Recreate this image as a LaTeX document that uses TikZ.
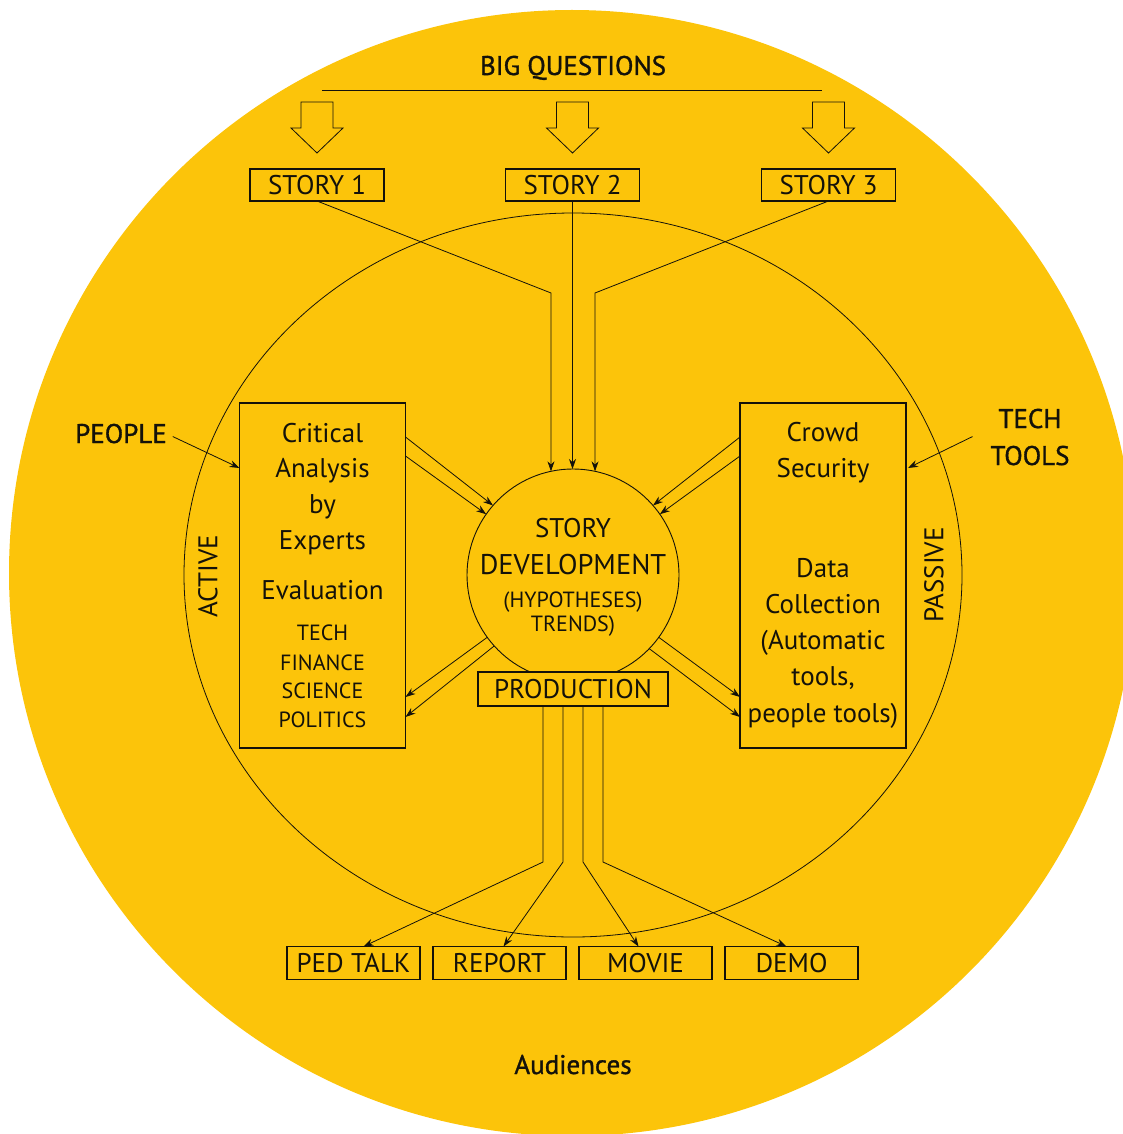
\documentclass[tikz,border=0pt]{standalone}
\usepackage{fontspec}
\setmainfont{PT Sans}
\newfontfamily\heavyfont[FakeBold=1.2]{PT Sans}
\usetikzlibrary{calc,arrows.meta}
\definecolor{gold}{RGB}{252,196,10}
\definecolor{ink}{RGB}{20,18,10}
\begin{document}
\begin{tikzpicture}[x=1pt,y=-1pt,
  every node/.style={inner sep=0pt, outer sep=0pt, text=ink},
  bx/.style={draw=ink, line width=1.2pt, fill=gold},
  ln/.style={draw=ink, line width=0.8pt},
  arr/.style={ln, -{Stealth[length=10pt,width=7pt]}},
  big/.style={font=\fontsize{27}{32}\selectfont},
  heavy/.style={font=\fontsize{27}{32}\heavyfont},
  mid/.style={font=\fontsize{22}{26}\selectfont},
  smallbox/.style={bx, big, minimum width=133, minimum height=33},
  storybox/.style={bx, big, minimum width=134, minimum height=32},
  rl/.style={big, anchor=base},
]
\useasboundingbox (0,0) rectangle (1123,1134);
\fill[gold] (572,573) circle[radius=563];
\draw[ln] (573,575) ellipse[x radius=389, y radius=362];

% top
\node[heavy, anchor=base] (bq) at (573,75) {BIG QUESTIONS};
\draw[ln] (322,90) -- (822,90);

\node[storybox] (s1) at (317,185) {STORY 1};
\node[storybox] (s2) at (572.5,185) {STORY 2};
\node[storybox] (s3) at (828.5,185) {STORY 3};

\foreach \sn in {s1,s2,s3}
  \draw[ln, fill=gold] ($(\sn.north)+(-16,-67)$) -- ++(32,0) -- ++(0,26) -- ++(10,0)
     -- ($(\sn.north)+(0,-16)$) -- ($(\sn.north)+(-26,-41)$) -- ++(10,0) -- cycle;

% central circle
\node[draw=ink, line width=0.9pt, circle, minimum size=212, fill=gold] (dev) at (573,575) {};
\node[big, anchor=base] (d1) at (573,537) {STORY};
\node[font=\fontsize{28.5}{32}\selectfont, anchor=base] (d2) at (573,574) {DEVELOPMENT};
\node[mid, anchor=base] (d3) at (573,607) {(HYPOTHESES)};
\node[mid, anchor=base] (d4) at (573,631) {TRENDS)};

\node[bx, big, minimum width=190, minimum height=34] (prod) at (573,689) {PRODUCTION};

% left box
\node[bx, minimum width=166, minimum height=345] (lbox) at (322.5,575.5) {};
\node[rl] (l1) at (322.5,442) {Critical};
\node[rl] (l2) at (322.5,477) {Analysis};
\node[rl] (l3) at (322.5,513) {by};
\node[rl] (l4) at (322.5,549) {Experts};
\node[rl] (l5) at (322.5,599) {Evaluation};
\node[mid, anchor=base] (ls1) at (322.5,640) {TECH};
\node[mid, anchor=base] (ls2) at (322.5,670) {FINANCE};
\node[mid, anchor=base] (ls3) at (322.5,698) {SCIENCE};
\node[mid, anchor=base] (ls4) at (322.5,727) {POLITICS};

% right box
\node[bx, minimum width=166, minimum height=345] (rbox) at (823,575.5) {};
\node[rl] (r1) at (823,441) {Crowd};
\node[rl] (r2) at (823,477) {Security};
\node[rl] (r3) at (823,577) {Data};
\node[rl] (r4) at (823,613) {Collection};
\node[rl] (r5) at (823,649) {(Automatic};
\node[rl] (r6) at (823,685) {tools,};
\node[rl] (r7) at (823,722) {people tools)};

% side labels
\node[big, rotate=90] (act) at (208,576) {ACTIVE};
\node[big, rotate=90] (pas) at (934,575) {PASSIVE};
\node[heavy, anchor=base] (people) at (121,443) {PEOPLE};
\node[heavy, anchor=base] (tech) at (1030,428) {TECH};
\node[heavy, anchor=base] (tools) at (1030,465) {TOOLS};

\draw[arr] ($(people.east)+(6,3)$) -- ($(lbox.north west)+(0,65)$);
\draw[arr] ($(tools.west)+(-18,-19)$) -- ($(rbox.north east)+(2,65)$);

% bottom boxes
\node[smallbox] (ped) at (353.5,963) {PED TALK};
\node[smallbox] (rep) at (499.5,963) {REPORT};
\node[smallbox] (mov) at (645.5,963) {MOVIE};
\node[smallbox] (demo) at (791.5,963) {DEMO};

\node[heavy, anchor=base] (aud) at (573,1074) {Audiences};

% story connectors
\coordinate (b1) at (551,293);
\coordinate (b3) at (595,293);
\draw[arr] (s1.south) -- (b1) -- (dev.102);
\draw[arr] (s2.south) -- (s2.south |- dev.north);
\draw[arr] (s3.south) -- (b3) -- (dev.78);

% boxes to circle
\draw[arr] ($(lbox.north east)+(0,34)$) -- (dev.139);
\draw[arr] ($(lbox.north east)+(0,53)$) -- (dev.145);
\draw[arr] ($(rbox.north west)+(0,34)$) -- (dev.41);
\draw[arr] ($(rbox.north west)+(0,53)$) -- (dev.35);

% circle to boxes
\draw[arr] (dev.216) -- ($(lbox.north east)+(0,294)$);
\draw[arr] (dev.222) -- ($(lbox.north east)+(0,314)$);
\draw[arr] (dev.324) -- ($(rbox.north west)+(0,294)$);
\draw[arr] (dev.316) -- ($(rbox.north west)+(0,314)$);

% production to outputs
\draw[arr] ($(prod.south)+(-30,0)$) -- ++(0,156) -- ($(ped.north)+(10,0)$);
\draw[arr] ($(prod.south)+(-10,0)$) -- ++(0,156) -- ($(rep.north)+(4,0)$);
\draw[arr] ($(prod.south)+(10,0)$) -- ++(0,156) -- ($(mov.north)+(-7,0)$);
\draw[arr] ($(prod.south)+(30,0)$) -- ++(0,156) -- ($(demo.north)+(-5,0)$);
\end{tikzpicture}
\end{document}
